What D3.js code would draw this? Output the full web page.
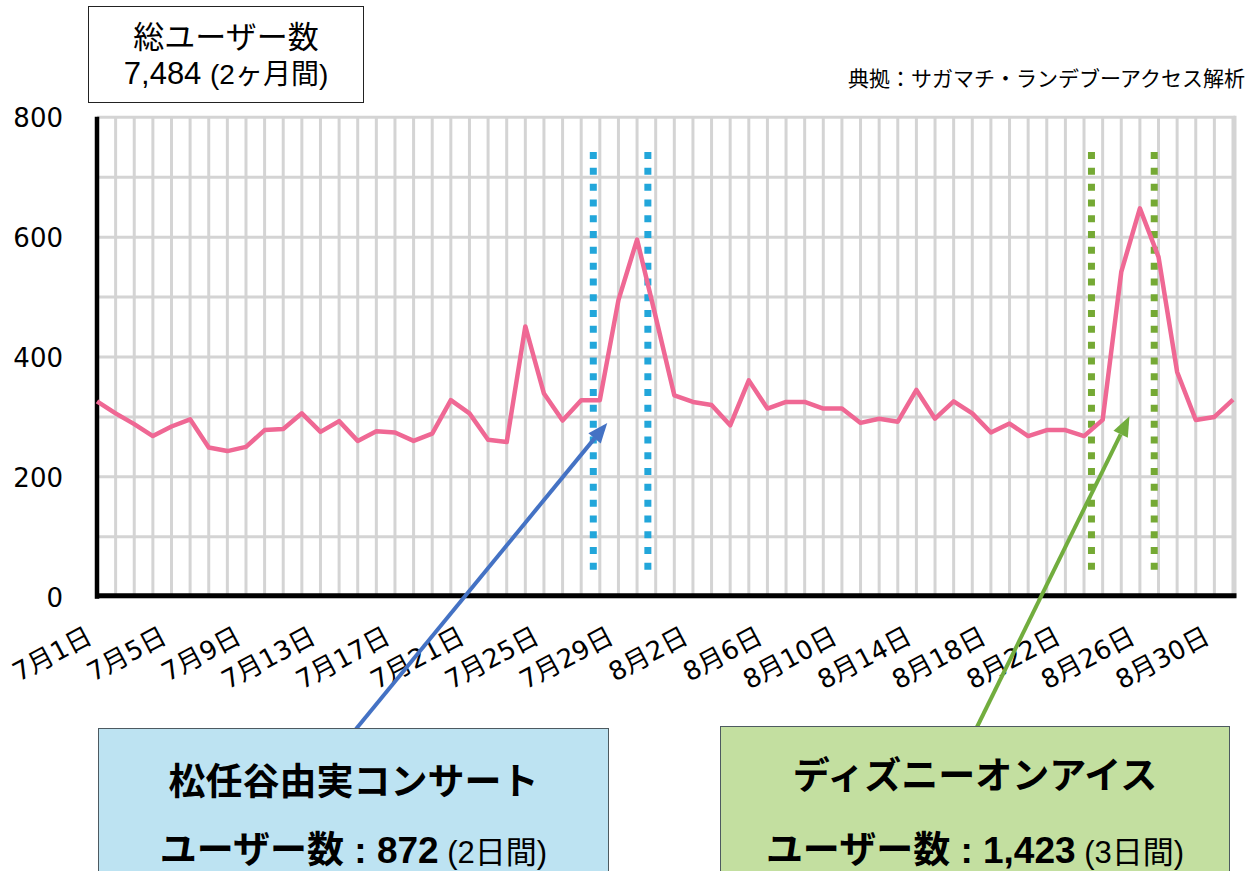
<!DOCTYPE html>
<html>
<head>
<meta charset="utf-8">
<script src="https://cdn.jsdelivr.net/npm/d3@7"></script>
<style>
  body { margin: 0; background: #fff; }
  text { font-family: "Liberation Sans", "Noto Sans CJK JP", sans-serif; fill: #000; }
</style>
</head>
<body>
<div class="chart"></div>
<script>
// 2ヶ月間の日別ユーザー数 (7月1日〜8月31日)
const days = [
  "7月1日","7月2日","7月3日","7月4日","7月5日","7月6日","7月7日","7月8日","7月9日","7月10日",
  "7月11日","7月12日","7月13日","7月14日","7月15日","7月16日","7月17日","7月18日","7月19日","7月20日",
  "7月21日","7月22日","7月23日","7月24日","7月25日","7月26日","7月27日","7月28日","7月29日","7月30日",
  "7月31日","8月1日","8月2日","8月3日","8月4日","8月5日","8月6日","8月7日","8月8日","8月9日",
  "8月10日","8月11日","8月12日","8月13日","8月14日","8月15日","8月16日","8月17日","8月18日","8月19日",
  "8月20日","8月21日","8月22日","8月23日","8月24日","8月25日","8月26日","8月27日","8月28日","8月29日",
  "8月30日","8月31日"
];
const users = [
  326, 306, 288, 268, 284, 296, 249, 243, 250, 278,
  280, 306, 275, 293, 260, 276, 274, 260, 272, 328,
  306, 262, 258, 451, 339, 294, 328, 328, 495, 596,
  467, 336, 325, 320, 286, 361, 314, 325, 325, 314,
  314, 290, 297, 292, 345, 297, 326, 306, 274, 289,
  268, 278, 278, 268, 295, 542, 648, 567, 375, 295,
  300, 329
];
const tickLabels = ["7月1日","7月5日","7月9日","7月13日","7月17日","7月21日","7月25日","7月29日",
                    "8月2日","8月6日","8月10日","8月14日","8月18日","8月22日","8月26日","8月30日"];
const yTicks = [0, 200, 400, 600, 800];
const yGrid = [0, 100, 200, 300, 400, 500, 600, 700, 800];

// イベント期間の点線 (日の位置, 上端/下端の値)
const concertLines = [26.65, 29.58];
const disneyLines = [53.4, 56.77];
const eventSpan = [44, 742];
// 矢印の先 (日の位置, 値)
const concertTip = [27.4, 290];
const disneyTip = [55.44, 301];

const WIDTH = 1260;
const HEIGHT = 871;

const svg = d3.select('.chart').append('svg')
  .attr('width', WIDTH)
  .attr('height', HEIGHT);

const x = d3.scaleLinear().domain([0, days.length - 1]).range([97, 1233]);
const y = d3.scaleLinear().domain([0, 800]).range([596.7, 117.3]);

// グリッド
const grid = svg.append('g');
grid.selectAll('.hgrid').data(yGrid).enter().append('line')
  .attr('x1', x(0)).attr('x2', x(days.length - 1) + 2)
  .attr('y1', d => y(d)).attr('y2', d => y(d))
  .attr('stroke', '#d4d4d4').attr('stroke-width', 3);
grid.selectAll('.vgrid').data(days).enter().append('line')
  .attr('x1', (d, i) => x(i)).attr('x2', (d, i) => x(i))
  .attr('y1', y(0)).attr('y2', y(800))
  .attr('stroke', '#d4d4d4').attr('stroke-width', 3);
grid.append('line')
  .attr('x1', x(days.length - 1) + 2).attr('x2', x(days.length - 1) + 2)
  .attr('y1', y(0)).attr('y2', y(800) - 1.5)
  .attr('stroke', '#d4d4d4').attr('stroke-width', 3);

// 軸線
svg.append('line')
  .attr('x1', x(0)).attr('x2', x(0))
  .attr('y1', y(800) - 0.5).attr('y2', y(0) + 2)
  .attr('stroke', '#000').attr('stroke-width', 4.5);
svg.append('line')
  .attr('x1', x(0) - 2).attr('x2', x(days.length - 1) + 3.5)
  .attr('y1', y(0) - 1).attr('y2', y(0) - 1)
  .attr('stroke', '#000').attr('stroke-width', 5);

// Y軸ラベル
const yAxis = svg.append('g')
  .attr('transform', `translate(${x(0)},0)`)
  .call(d3.axisLeft(y).tickValues(yTicks).tickSize(0).tickPadding(34));
yAxis.select('.domain').remove();
yAxis.selectAll('text')
  .style('font-family', '"DejaVu Sans", sans-serif')
  .style('font-size', '26px')
  .attr('fill', '#000')
  .attr('dy', '0.36em');

// X軸ラベル (斜め)
svg.append('g').selectAll('text').data(tickLabels).enter().append('text')
  .attr('transform', d => `translate(${x(days.indexOf(d)) - 3},642) rotate(-28)`)
  .attr('text-anchor', 'end')
  .style('font-family', '"DejaVu Sans", "Noto Sans CJK JP", sans-serif')
  .style('font-size', '26px')
  .text(d => d);

// 点線
const dotted = (pos, color) => svg.append('g').selectAll('line').data(pos).enter().append('line')
  .attr('x1', d => x(d)).attr('x2', d => x(d))
  .attr('y1', y(eventSpan[1])).attr('y2', y(eventSpan[0]))
  .attr('stroke', color).attr('stroke-width', 7)
  .attr('stroke-dasharray', '7 8.8');
dotted(concertLines, '#22a6da');
dotted(disneyLines, '#75a934');

// 折れ線
const line = d3.line().x((d, i) => x(i)).y(d => y(d));
svg.append('path')
  .datum(users)
  .attr('d', line)
  .attr('fill', 'none')
  .attr('stroke', '#ef6894')
  .attr('stroke-width', 4.5)
  .attr('stroke-linejoin', 'round');

// 矢印
function arrow(x0, y0, tip, color) {
  const x1 = x(tip[0]), y1 = y(tip[1]);
  const ang = Math.atan2(y1 - y0, x1 - x0);
  const len = 20, half = 8;
  const bx = x1 - len * Math.cos(ang), by = y1 - len * Math.sin(ang);
  svg.append('line')
    .attr('x1', x0).attr('y1', y0).attr('x2', bx).attr('y2', by)
    .attr('stroke', color).attr('stroke-width', 4);
  const px = -Math.sin(ang) * half, py = Math.cos(ang) * half;
  svg.append('path')
    .attr('d', `M${x1},${y1}L${bx + px},${by + py}L${bx - px},${by - py}Z`)
    .attr('fill', color);
}
arrow(356, 729, concertTip, '#4472c4');
arrow(977, 727, disneyTip, '#72ad3e');

// 総ユーザー数ボックス
svg.append('rect')
  .attr('x', 88.5).attr('y', 6.5).attr('width', 275).attr('height', 96)
  .attr('fill', '#fff').attr('stroke', '#222').attr('stroke-width', 1);
svg.append('text')
  .attr('x', 226).attr('y', 48).attr('text-anchor', 'middle')
  .style('font-size', '31px').text('総ユーザー数');
const total = svg.append('text')
  .attr('x', 226).attr('y', 84).attr('text-anchor', 'middle')
  .style('font-size', '31px');
total.append('tspan').text('7,484 ');
total.append('tspan').style('font-size', '28px').text('(2ヶ月間)');

// 典拠
svg.append('text')
  .attr('x', 1245).attr('y', 86).attr('text-anchor', 'end')
  .style('font-size', '21px').attr('fill', '#111')
  .text('典拠：サガマチ・ランデブーアクセス解析');

// イベントボックス
function eventBox(bx, by, bw, fill, title, count, period, titleY) {
  svg.append('rect')
    .attr('x', bx).attr('y', by).attr('width', bw).attr('height', 180)
    .attr('fill', fill).attr('stroke', '#4d5a60').attr('stroke-width', 1);
  const cx = bx + bw / 2;
  svg.append('text')
    .attr('x', cx).attr('y', titleY).attr('text-anchor', 'middle')
    .style('font-size', '37px').style('font-weight', 'bold')
    .text(title);
  const t = svg.append('text')
    .attr('x', cx).attr('y', 863).attr('text-anchor', 'middle')
    .style('font-size', '37px');
  t.append('tspan').style('font-weight', 'bold').text('ユーザー数 : ');
  t.append('tspan').style('font-weight', 'bold').text(count);
  t.append('tspan').style('font-size', '31px').text(' ' + period);
}
eventBox(98.5, 728.5, 510, '#bde3f2', '松任谷由実コンサート', '872', '(2日間)', 795);
eventBox(720.5, 726.5, 509, '#c3dfa0', 'ディズニーオンアイス', '1,423', '(3日間)', 789);
</script>
</body>
</html>
